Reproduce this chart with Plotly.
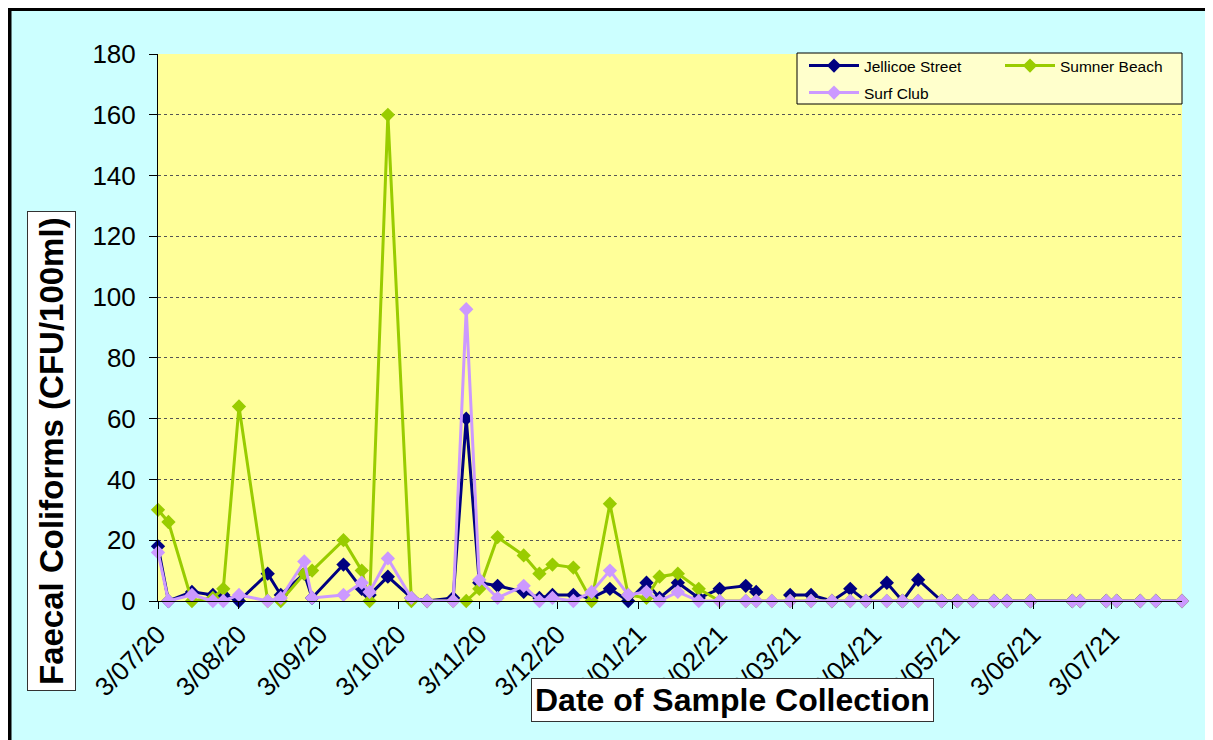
import plotly.graph_objects as go

sample_dates = [
    "2020-07-03", "2020-07-07", "2020-07-16", "2020-07-24", "2020-07-28",
    "2020-08-03", "2020-08-14", "2020-08-19", "2020-08-28", "2020-08-31",
    "2020-09-12", "2020-09-19", "2020-09-22", "2020-09-29", "2020-10-08",
    "2020-10-14", "2020-10-24", "2020-10-29", "2020-11-03", "2020-11-10",
    "2020-11-20", "2020-11-26", "2020-12-01", "2020-12-09", "2020-12-16",
    "2020-12-23", "2020-12-30", "2021-01-06", "2021-01-11", "2021-01-18",
    "2021-01-26", "2021-02-03", "2021-02-13", "2021-02-17", "2021-02-23",
    "2021-03-02", "2021-03-10", "2021-03-18", "2021-03-25", "2021-03-31",
    "2021-04-08", "2021-04-14", "2021-04-20", "2021-04-29", "2021-05-05",
    "2021-05-11", "2021-05-19", "2021-05-24", "2021-06-02", "2021-06-18",
    "2021-06-21", "2021-07-01", "2021-07-05", "2021-07-14", "2021-07-20",
    "2021-07-30",
]

jellicoe_street = [18, 0, 3, 2, 2, 0, 9, 2, 9, 1, 12, 4, 2, 8, 1, 0, 1, 60, 6, 5,
                   3, 1, 2, 2, 1, 4, 0, 6, 1, 6, 1, 4, 5, 3, None, 2, 2, 0, 4, 0,
                   6, 0, 7, 0, 0, 0, 0, 0, 0, 0, 0, 0, 0, 0, 0, 0]
sumner_beach = [30, 26, 0, 1, 4, 64, 0, 0, 9, 10, 20, 10, 0, 160, 0, 0, 0, 0, 4, 21,
                15, 9, 12, 11, 0, 32, 2, 1, 8, 9, 4, 0, 0, 0, 0, 0, 0, 0, 0, 0,
                0, 0, 0, 0, 0, 0, 0, 0, 0, 0, 0, 0, 0, 0, 0, 0]
surf_club = [16, 0, 2, 0, 0, 2, 0, 1, 13, 1, 2, 6, 3, 14, 1, 0, 0, 96, 7, 1,
             5, 0, 1, 0, 3, 10, 2, 3, 0, 3, 0, 0, 0, 0, 0, 0, 0, 0, 0, 0,
             0, 0, 0, 0, 0, 0, 0, 0, 0, 0, 0, 0, 0, 0, 0, 0]

tick_dates = ["2020-07-03", "2020-08-03", "2020-09-03", "2020-10-03", "2020-11-03",
              "2020-12-03", "2021-01-03", "2021-02-03", "2021-03-03", "2021-04-03",
              "2021-05-03", "2021-06-03", "2021-07-03"]
tick_labels = ["3/07/20", "3/08/20", "3/09/20", "3/10/20", "3/11/20", "3/12/20",
               "3/01/21", "3/02/21", "3/03/21", "3/04/21", "3/05/21", "3/06/21",
               "3/07/21"]

# page body has an 8px margin: figure is offset by OFF in the window
OFF = 8
W, H = 1213 - OFF, 740 - OFF
L, R, T, B = 158 - OFF, 1182 - OFF, 54 - OFF, 601 - OFF
PW, PH = R - L, B - T


def px(x_win):
    return (x_win - OFF - L) / PW


def py(y_win):
    return (B - (y_win - OFF)) / PH


FONT = "Liberation Sans, Arial, sans-serif"

fig = go.Figure()
series = [
    ("Jellicoe Street", jellicoe_street, "#000080", "legend"),
    ("Sumner Beach", sumner_beach, "#99CC00", "legend"),
    ("Surf Club", surf_club, "#CC99FF", "legend2"),
]
for name, vals, col, lg in series:
    fig.add_trace(go.Scatter(
        x=sample_dates, y=vals, name=name, mode="lines+markers",
        line=dict(color=col, width=3),
        marker=dict(symbol="diamond", size=11, color=col),
        connectgaps=False, cliponaxis=False, legend=lg,
    ))

fig.update_layout(
    width=W, height=H,
    margin=dict(l=L, r=W - R, t=T, b=H - B, autoexpand=False),
    paper_bgcolor="#CCFFFF",
    plot_bgcolor="#FFFF99",
    font=dict(family=FONT, color="black"),
    showlegend=True,
    legend=dict(orientation="h", x=px(804), y=py(49), xanchor="left", yanchor="top",
                bgcolor="rgba(0,0,0,0)", font=dict(size=15.5, family=FONT),
                itemwidth=50, entrywidth=131, traceorder="normal"),
    legend2=dict(orientation="h", x=px(804), y=py(76), xanchor="left", yanchor="top",
                 bgcolor="rgba(0,0,0,0)", font=dict(size=15.5, family=FONT),
                 itemwidth=50),
    xaxis=dict(
        type="date", range=["2020-07-03", "2021-07-30"],
        tickvals=tick_dates, ticktext=tick_labels, tickangle=-45,
        tickfont=dict(size=26, family=FONT), ticks="outside", ticklen=7,
        tickcolor="black", showline=True, linecolor="black", linewidth=1,
        showgrid=False, zeroline=False,
    ),
    yaxis=dict(
        range=[0, 180], dtick=20, tickfont=dict(size=26, family=FONT),
        ticks="outside", ticklen=8, tickcolor="black", ticklabelstandoff=8,
        showline=True, linecolor="black", linewidth=1,
        showgrid=True, gridcolor="#555555", griddash="dot", gridwidth=1,
        zeroline=False,
    ),
    shapes=[
        dict(type="rect", xref="paper", yref="paper", x0=px(9), x1=px(1209.5),
             y0=py(760), y1=py(8.5), line=dict(color="black", width=5)),
        dict(type="rect", xref="paper", yref="paper", x0=px(797), x1=px(1182),
             y0=py(104), y1=py(53), fillcolor="#FFFFCC",
             line=dict(color="black", width=1), layer="above"),
    ],
    annotations=[
        dict(text="<b>Date of Sample Collection</b>", xref="paper", yref="paper",
             x=px(732), y=py(700), xanchor="center", yanchor="middle",
             showarrow=False, font=dict(size=32, family=FONT),
             bgcolor="white", bordercolor="#333333", borderwidth=1, borderpad=3),
        dict(text="<b>Faecal Coliforms (CFU/100ml)</b>", xref="paper", yref="paper",
             x=px(51), y=py(451), xanchor="center", yanchor="middle",
             showarrow=False, textangle=-90,
             font=dict(size=33, family=FONT),
             bgcolor="white", bordercolor="#333333", borderwidth=1, borderpad=5),
    ],
)

fig.write_html("out.html")
